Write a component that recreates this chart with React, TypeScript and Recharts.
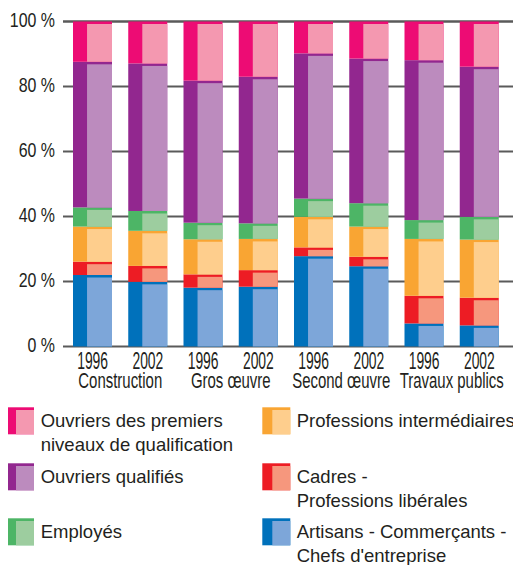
import React from "react";
import { BarChart, Bar, XAxis, YAxis, CartesianGrid } from "recharts";

const years = ["1996", "2002", "1996", "2002", "1996", "2002", "1996", "2002"];
const groups = ["Construction", "Construction", "Gros œuvre", "Gros œuvre", "Second œuvre", "Second œuvre", "Travaux publics", "Travaux publics"];
const artisans = [22.0, 19.9, 18.1, 18.4, 27.8, 24.7, 7.1, 6.5];
const cadres = [4.1, 4.9, 4.1, 5.1, 2.7, 2.9, 8.5, 8.5];
const profInter = [10.8, 10.8, 10.8, 9.6, 9.4, 9.3, 17.5, 17.9];
const employes = [5.9, 6.1, 5.1, 4.8, 5.6, 7.2, 5.8, 7.0];
const qualifies = [44.8, 45.4, 43.7, 45.1, 44.7, 44.5, 49.2, 46.2];
const premiers = [12.4, 12.9, 18.2, 17.0, 9.8, 11.4, 11.9, 13.9];
const yTicks = [0, 20, 40, 60, 80, 100];

const data = years.map((y, i) => ({
  id: `${groups[i]}-${y}`,
  year: y,
  group: groups[i],
  artisans: artisans[i],
  cadres: cadres[i],
  profInter: profInter[i],
  employes: employes[i],
  qualifies: qualifies[i],
  premiers: premiers[i],
}));

const series = [
  { key: "artisans", dark: "#0071BB", light: "#7DA6D9", label: ["Artisans - Commerçants -", "Chefs d'entreprise"] },
  { key: "cadres", dark: "#ED1C24", light: "#F6977D", label: ["Cadres -", "Professions libérales"] },
  { key: "profInter", dark: "#F9A533", light: "#FECE8D", label: ["Professions intermédiaires"] },
  { key: "employes", dark: "#4DB566", light: "#9DCD9F", label: ["Employés"] },
  { key: "qualifies", dark: "#92278F", light: "#BC8BBE", label: ["Ouvriers qualifiés"] },
  { key: "premiers", dark: "#ED0C74", light: "#F498B0", label: ["Ouvriers des premiers", "niveaux de qualification"] },
];

const FONT = "'Liberation Sans', Arial, sans-serif";
const TEXT = "#231f20";

const makeShape = (dark: string, light: string) => (props: any) => {
  const { x, y, width, height } = props;
  if (!height || height <= 0) return <g />;
  const split = width * 0.36;
  const off = Math.min(2.5, height / 2);
  return (
    <g>
      <rect x={x} y={y} width={width} height={height} fill={dark} />
      <rect x={x + split} y={y + off} width={width - split} height={height - off} fill={light} />
    </g>
  );
};

const NarrowText = ({ x, y, sx, size, anchor, children }: any) => (
  <text
    transform={`translate(${x},${y}) scale(${sx},1)`}
    x={0}
    y={0}
    textAnchor={anchor}
    fontFamily={FONT}
    fontSize={size}
    fill={TEXT}
  >
    {children}
  </text>
);

const YTick = (props: any) => {
  const { x, y, payload } = props;
  return (
    <NarrowText x={x} y={y + 5.8} sx={0.76} size={21} anchor="end">
      {`${payload.value} %`}
    </NarrowText>
  );
};

const YearTick = (props: any) => {
  const { x, y, index } = props;
  return (
    <NarrowText x={x} y={y + 22.5} sx={0.58} size={24} anchor="middle">
      {years[index]}
    </NarrowText>
  );
};

const GroupTick = (props: any) => {
  const { x, y, payload } = props;
  return (
    <NarrowText x={x} y={y + 17.5} sx={0.68} size={22} anchor="middle">
      {payload.value}
    </NarrowText>
  );
};

const legendLeft = [series[5], series[4], series[3]];
const legendRight = [series[2], series[1], series[0]];

const Swatch = ({ x, y, dark, light }: any) => (
  <g>
    <rect x={x} y={y} width={28} height={27} fill={dark} />
    <rect x={x + 10} y={y + 2.7} width={18} height={24.3} fill={light} />
  </g>
);

const Legend2 = () => {
  const rowTops = [399.3, 455.3, 510.3];
  const renderCol = (items: any[], sx: number, tx: number) =>
    items.map((s, i) => (
      <g key={s.key}>
        <Swatch x={sx} y={rowTops[i]} dark={s.dark} light={s.light} />
        {s.label.map((line: string, j: number) => (
          <text key={j} x={tx} y={rowTops[i] + 20 + j * 24} fontFamily={FONT} fontSize={18.5} fill={TEXT}>
            {line}
          </text>
        ))}
      </g>
    ));
  return (
    <svg
      width={513}
      height={557}
      style={{ position: "absolute", left: 0, top: 0, pointerEvents: "none", overflow: "visible" }}
    >
      {renderCol(legendLeft, -2, 32.7)}
      {renderCol(legendRight, 254.3, 288.7)}
    </svg>
  );
};

export default function App() {
  return (
    <div style={{ position: "relative", width: 513, height: 557 }}>
      <BarChart
        width={513}
        height={400}
        data={data}
        margin={{ top: 13.5, right: 6, bottom: 0, left: 0 }}
        barSize={39}
      >
        <CartesianGrid vertical={false} stroke="#5a5a5a" strokeWidth={2} />
        <YAxis
          type="number"
          domain={[0, 100]}
          ticks={yTicks}
          width={55}
          axisLine={false}
          tickLine={false}
          tickSize={0}
          tickMargin={8}
          tick={<YTick />}
          interval={0}
        />
        <XAxis
          dataKey="id"
          height={24}
          padding={{ left: 2, right: 8 }}
          axisLine={false}
          tickLine={false}
          tickSize={0}
          tickMargin={0}
          interval={0}
          tick={<YearTick />}
        />
        <XAxis
          xAxisId="grp"
          dataKey="group"
          height={37.5}
          allowDuplicatedCategory={false}
          padding={{ left: 2, right: 8 }}
          axisLine={false}
          tickLine={false}
          tickSize={0}
          tickMargin={0}
          interval={0}
          tick={<GroupTick />}
        />
        {series.map((s) => (
          <Bar
            key={s.key}
            dataKey={s.key}
            stackId="a"
            isAnimationActive={false}
            shape={makeShape(s.dark, s.light)}
          />
        ))}
      </BarChart>
      <Legend2 />
    </div>
  );
}
